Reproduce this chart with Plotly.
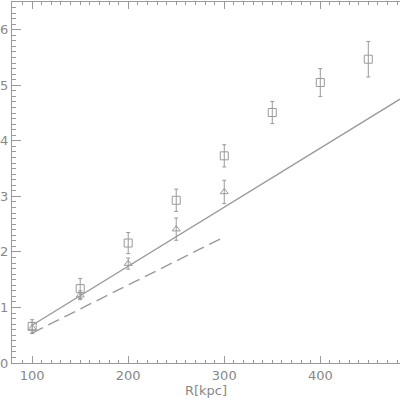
import plotly.graph_objects as go

R = [100, 150, 200, 250, 300, 350, 400, 450]
sq_y = [0.66, 1.34, 2.16, 2.93, 3.73, 4.51, 5.05, 5.47]
sq_err = [0.12, 0.18, 0.19, 0.20, 0.20, 0.20, 0.25, 0.32]
R_tri = [100, 150, 200, 250, 300]
tri_y = [0.63, 1.22, 1.79, 2.41, 3.08]
tri_err = [0.10, 0.08, 0.10, 0.20, 0.21]
solid_x = [100, 483]
solid_y = [0.68, 4.75]
dash_x = [100, 300]
dash_y = [0.54, 2.27]

col = "#9a9a9a"
fig = go.Figure()
fig.add_trace(go.Scatter(x=solid_x, y=solid_y, mode="lines", line=dict(color=col, width=1.4)))
fig.add_trace(go.Scatter(x=dash_x, y=dash_y, mode="lines", line=dict(color=col, width=1.4, dash="12px,6px")))
fig.add_trace(go.Scatter(x=R, y=sq_y, mode="markers",
                         marker=dict(symbol="square-open", size=8, color=col, line=dict(width=1)),
                         error_y=dict(type="data", array=sq_err, color=col, thickness=1, width=2)))
fig.add_trace(go.Scatter(x=R_tri, y=tri_y, mode="markers",
                         marker=dict(symbol="triangle-up-open", size=7, color=col, line=dict(width=1)),
                         error_y=dict(type="data", array=tri_err, color=col, thickness=1, width=2)))

fnt = dict(family="DejaVu Sans", size=13, color="#888888")
fig.update_layout(
    width=400, height=400, showlegend=False,
    margin=dict(l=12, r=0, t=2, b=37),
    plot_bgcolor="white", paper_bgcolor="white",
    xaxis=dict(range=[79, 483], showgrid=False, zeroline=False, showline=True, linecolor=col, linewidth=1,
               mirror="ticks", ticks="inside", ticklen=7, tickcolor=col, tickvals=[100, 200, 300, 400],
               minor=dict(dtick=10, ticks="inside", ticklen=3, tickcolor=col),
               tickfont=fnt, automargin=False,
               title=dict(text="R[kpc]", font=fnt, standoff=2)),
    yaxis=dict(range=[0, 6.5], showgrid=False, zeroline=False, showline=True, linecolor=col, linewidth=1,
               ticks="inside", ticklen=9, tickcolor=col, tickvals=[0, 1, 2, 3, 4, 5, 6],
               minor=dict(dtick=0.1, ticks="inside", ticklen=4, tickcolor=col),
               tickfont=fnt, automargin=False),
)
fig.write_html("out.html", config={"displayModeBar": False},
               post_script="document.body.style.margin='0';document.body.style.overflow='hidden';")
